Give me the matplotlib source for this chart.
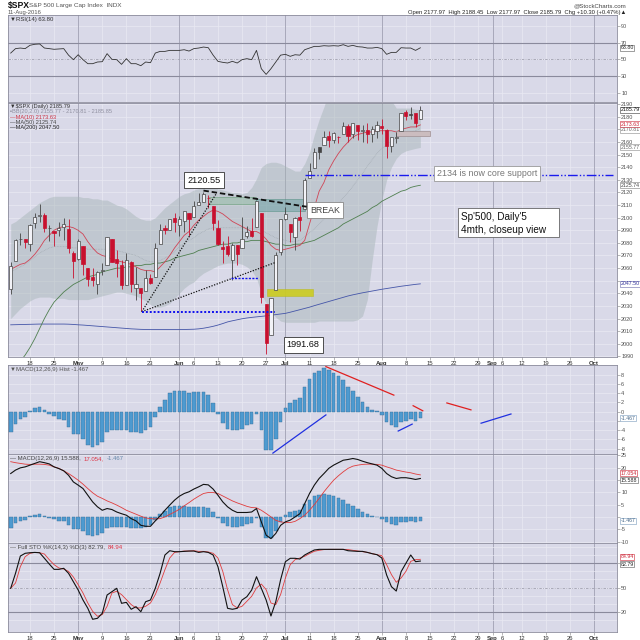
import numpy as np
import pandas as pd
import matplotlib
matplotlib.use("Agg")
import matplotlib.pyplot as plt
from matplotlib.patches import Rectangle
from matplotlib.text import Annotation

plt.rcParams['font.family'] = ['Liberation Sans', 'DejaVu Sans']
plt.rcParams['axes.unicode_minus'] = False

# trading calendar (x axis = trading days)
holidays = pd.to_datetime(['2016-05-30', '2016-07-04', '2016-09-05'])
days = pd.bdate_range('2016-04-12', '2016-10-14')
days = days[~days.isin(holidays)]

tick_dates = ['2016-04-18', '2016-04-25', '2016-05-02', '2016-05-09', '2016-05-16', '2016-05-23',
              '2016-06-01', '2016-06-06', '2016-06-13', '2016-06-20', '2016-06-27', '2016-07-01',
              '2016-07-11', '2016-07-18', '2016-07-25', '2016-08-01', '2016-08-08', '2016-08-15',
              '2016-08-22', '2016-08-29', '2016-09-01', '2016-09-06', '2016-09-12', '2016-09-19',
              '2016-09-26', '2016-10-03']
tick_labels = ['18', '25', 'May', '9', '16', '23', 'Jun', '6', '13', '20', '27', 'Jul', '11', '18',
               '25', 'Aug', '8', '15', '22', '29', 'Sep', '6', '12', '19', '26', 'Oct']
months = {'May', 'Jun', 'Jul', 'Aug', 'Sep', 'Oct'}

# daily candles, 12 Apr - 11 Aug 2016
opens = [2043.72, 2065.92, 2082.89, 2083.10, 2078.83, 2096.05, 2101.52, 2102.09, 2091.49, 2089.37,
         2089.84, 2092.57, 2090.93, 2071.82, 2067.17, 2077.18, 2060.30, 2052.95, 2047.77, 2057.55,
         2062.63, 2083.29, 2067.17, 2062.50, 2046.53, 2065.04, 2044.38, 2044.21, 2041.88, 2052.23,
         2052.65, 2078.93, 2091.44, 2090.06, 2100.13, 2093.94, 2097.71, 2104.07, 2100.83, 2110.18,
         2112.71, 2115.65, 2109.57, 2091.75, 2076.65, 2077.60, 2066.36, 2078.20, 2075.58, 2085.19,
         2089.75, 2092.80, 2103.81, 2031.45, 2006.67, 2042.69, 2073.17, 2099.34, 2095.05, 2084.43,
         2100.42, 2106.97, 2131.72, 2139.50, 2155.81, 2157.88, 2165.13, 2162.04, 2163.79, 2166.10,
         2172.91, 2166.47, 2173.71, 2168.97, 2169.81, 2166.05, 2168.83, 2173.15, 2169.94, 2156.81,
         2163.51, 2168.79, 2183.76, 2182.24, 2182.81, 2177.97]
highs = [2065.05, 2083.18, 2087.84, 2083.22, 2094.66, 2104.05, 2111.05, 2103.78, 2094.32, 2089.37,
         2096.87, 2099.89, 2099.30, 2073.85, 2083.42, 2077.18, 2060.30, 2060.23, 2057.72, 2064.15,
         2084.87, 2083.29, 2073.99, 2066.79, 2071.88, 2065.69, 2060.61, 2044.21, 2058.35, 2055.58,
         2079.67, 2094.73, 2094.30, 2099.06, 2103.48, 2100.97, 2105.26, 2104.07, 2113.36, 2119.22,
         2120.55, 2117.64, 2109.57, 2098.12, 2081.30, 2085.65, 2079.62, 2078.20, 2100.66, 2093.66,
         2099.71, 2113.32, 2103.81, 2031.45, 2036.09, 2073.13, 2098.94, 2108.71, 2095.05, 2100.72,
         2109.08, 2131.71, 2143.16, 2155.40, 2156.45, 2168.99, 2169.05, 2168.35, 2164.63, 2175.63,
         2174.56, 2175.11, 2173.71, 2173.54, 2174.98, 2172.85, 2177.09, 2178.29, 2170.20, 2163.79,
         2168.19, 2182.87, 2185.44, 2187.66, 2183.41, 2188.45]
lows = [2039.74, 2065.92, 2078.13, 2076.31, 2073.65, 2091.68, 2096.32, 2088.52, 2081.20, 2077.52,
        2085.80, 2082.31, 2071.62, 2052.28, 2066.11, 2054.89, 2045.55, 2045.77, 2039.45, 2054.31,
        2062.63, 2064.46, 2053.13, 2043.13, 2046.53, 2040.82, 2034.49, 2025.91, 2041.88, 2047.26,
        2052.65, 2078.93, 2087.08, 2090.06, 2088.66, 2085.10, 2088.59, 2085.36, 2100.83, 2110.18,
        2112.71, 2107.73, 2089.96, 2078.46, 2064.10, 2069.80, 2050.37, 2062.84, 2075.58, 2084.12,
        2084.36, 2092.80, 2032.57, 1991.68, 2006.67, 2042.69, 2070.00, 2097.90, 2080.86, 2074.02,
        2089.39, 2106.97, 2131.72, 2139.50, 2146.21, 2157.88, 2155.79, 2159.07, 2159.40, 2166.10,
        2159.75, 2163.24, 2161.95, 2160.18, 2159.07, 2159.74, 2163.49, 2166.21, 2147.58, 2152.02,
        2159.07, 2168.79, 2177.85, 2178.61, 2172.00, 2177.97]
closes = [2061.72, 2082.42, 2082.78, 2080.73, 2094.34, 2100.80, 2102.40, 2091.48, 2091.58, 2087.79,
          2091.70, 2095.15, 2075.81, 2065.30, 2081.43, 2063.37, 2051.12, 2050.63, 2057.14, 2058.69,
          2084.39, 2064.46, 2064.11, 2046.61, 2066.66, 2047.21, 2047.63, 2040.04, 2052.32, 2048.04,
          2076.06, 2090.54, 2090.10, 2099.06, 2096.95, 2099.33, 2105.26, 2099.13, 2109.41, 2112.13,
          2119.12, 2115.48, 2096.07, 2079.06, 2075.32, 2071.50, 2077.99, 2071.22, 2083.25, 2088.90,
          2085.45, 2113.32, 2037.41, 2000.54, 2036.09, 2070.77, 2098.86, 2102.95, 2088.55, 2099.73,
          2097.90, 2129.90, 2137.16, 2152.14, 2152.43, 2163.75, 2161.74, 2166.89, 2163.78, 2173.02,
          2165.17, 2175.03, 2168.48, 2169.18, 2166.58, 2170.06, 2173.60, 2170.84, 2157.03, 2163.79,
          2164.25, 2182.87, 2180.89, 2181.74, 2175.49, 2185.79]

# overlays
bb_up = [2095, 2097, 2100, 2103, 2106, 2109, 2112, 2114, 2116, 2117,
         2117, 2117, 2117, 2117, 2117, 2116, 2116, 2115, 2115, 2114,
         2114, 2112, 2110, 2109, 2107, 2104, 2101, 2099, 2098, 2098,
         2100, 2104, 2108, 2111, 2114, 2117, 2119, 2120, 2122, 2123,
         2124, 2124, 2124, 2123, 2122, 2121, 2120, 2120, 2119, 2120,
         2124, 2131, 2140, 2143, 2144, 2144, 2143, 2141, 2139, 2137,
         2137, 2143, 2152, 2166, 2178, 2188, 2200, 2210, 2215, 2220,
         2222, 2222, 2220, 2218, 2215, 2212, 2208, 2203, 2198, 2193,
         2187, 2187, 2187, 2187, 2186, 2185.85]
bb_mid = [2057, 2059, 2061, 2063, 2066, 2069, 2072, 2074, 2076, 2077,
          2077, 2077, 2077, 2076, 2076, 2076, 2075, 2075, 2075, 2075,
          2075, 2075, 2074, 2073, 2072, 2071, 2070, 2068, 2066, 2065,
          2065, 2066, 2068, 2070, 2073, 2077, 2080, 2082, 2084, 2087,
          2089, 2091, 2092, 2092, 2092, 2092, 2092, 2092, 2092, 2092,
          2091, 2091, 2090, 2088, 2086, 2084, 2083, 2082, 2081, 2081,
          2082, 2085, 2088, 2091, 2095, 2099, 2103, 2107, 2111, 2116,
          2120, 2125, 2130, 2135, 2141, 2146, 2151, 2155, 2158, 2161,
          2163, 2165, 2166, 2168, 2169, 2170.81]
bb_low = [2020, 2024, 2028, 2031, 2034, 2036, 2037, 2037, 2037, 2036,
          2036, 2036, 2035, 2035, 2035, 2035, 2035, 2036, 2037, 2038,
          2039, 2040, 2041, 2041, 2040, 2039, 2038, 2036, 2034, 2031,
          2029, 2029, 2030, 2032, 2036, 2040, 2044, 2047, 2049, 2053,
          2056, 2058, 2060, 2062, 2063, 2064, 2064, 2064, 2063, 2061,
          2058, 2052, 2040, 2032, 2026, 2021, 2018, 2017, 2017, 2017,
          2017, 2017, 2017, 2017, 2018, 2018, 2018, 2018, 2018, 2018,
          2018, 2018, 2019, 2022, 2035, 2066, 2093, 2114, 2130, 2140,
          2147, 2151, 2153, 2154, 2155, 2155.77]
ma10 = [2059, 2061, 2063, 2064, 2067, 2071, 2076, 2082, 2086, 2090,
        2092, 2093, 2093, 2092, 2090, 2087, 2081, 2076, 2072, 2070,
        2069, 2067, 2066, 2065, 2064, 2063, 2061, 2059, 2058, 2058,
        2057, 2061, 2065, 2070, 2076, 2081, 2086, 2089, 2094, 2098,
        2101, 2104, 2106, 2105, 2103, 2100, 2097, 2095, 2093, 2091,
        2089, 2089, 2087, 2083, 2078, 2075, 2074, 2075, 2076, 2077,
        2078, 2082, 2095, 2108, 2121, 2128, 2138, 2145, 2151, 2156,
        2160, 2164, 2166, 2167, 2168, 2168, 2169, 2169, 2169, 2169,
        2168, 2170, 2171, 2172, 2172, 2173.63]
ma50 = [1975, 1981, 1986, 1991, 1997, 2004, 2012, 2020, 2027, 2033,
        2037, 2041, 2044, 2047, 2049, 2051, 2053, 2054, 2055, 2057,
        2058, 2059, 2060, 2060, 2061, 2061, 2062, 2062, 2063, 2063,
        2064, 2064, 2065, 2066, 2068, 2069, 2070, 2071, 2072, 2074,
        2075, 2076, 2077, 2078, 2079, 2079, 2080, 2080, 2081, 2081,
        2082, 2082, 2082, 2081, 2080, 2079, 2079, 2078, 2078, 2079,
        2079, 2080, 2081, 2082, 2084, 2086, 2088, 2090, 2092, 2095,
        2097, 2099, 2101, 2103, 2105, 2108, 2110, 2113, 2115, 2117,
        2119, 2121, 2122, 2124, 2125, 2125.74]
ma200 = [2015.0, 2015.1, 2015.2, 2015.3, 2015.4, 2015.5, 2015.6, 2015.6, 2015.6, 2015.6,
         2015.6, 2015.6, 2015.5, 2015.3, 2015.0, 2014.8, 2014.5, 2014.2, 2013.9, 2013.6,
         2013.3, 2013.0, 2012.7, 2012.4, 2012.1, 2011.8, 2011.6, 2011.4, 2011.3, 2011.2,
         2011.2, 2011.2, 2011.2, 2011.2, 2011.2, 2011.2, 2011.3, 2011.4, 2011.5, 2011.8,
         2012.3, 2013.0, 2013.8, 2014.8, 2016.0, 2017.3, 2018.2, 2019.0, 2019.8, 2020.4,
         2020.9, 2021.3, 2021.7, 2022.1, 2022.6, 2023.1, 2023.6, 2024.1, 2025.0, 2026.0,
         2027.0, 2028.0, 2029.0, 2030.2, 2031.3, 2032.4, 2033.5, 2034.6, 2035.7, 2036.8,
         2037.9, 2038.8, 2039.6, 2040.4, 2041.1, 2041.8, 2042.5, 2043.2, 2043.8, 2044.4,
         2045.0, 2045.6, 2046.1, 2046.6, 2047.1, 2047.5]

# indicators
rsi = [57.5, 62.8, 63.5, 62.8, 66.8, 68.0, 68.4, 63.5, 62.8, 62.0,
       62.4, 62.8, 55.0, 49.6, 55.5, 49.6, 44.8, 44.8, 46.8, 47.2,
       56.8, 50.0, 49.6, 44.0, 50.8, 44.8, 44.8, 42.4, 46.8, 46.0,
       57.5, 59.5, 59.5, 60.7, 60.7, 60.7, 61.5, 59.9, 62.8, 63.5,
       64.7, 63.9, 55.0, 47.6, 46.4, 45.6, 47.6, 45.6, 49.6, 50.8,
       49.6, 60.7, 38.8, 32.0, 38.8, 46.8, 55.0, 56.0, 53.6, 55.5,
       55.0, 61.5, 63.5, 65.5, 65.5, 66.3, 65.9, 66.3, 65.9, 67.5,
       65.5, 66.7, 65.1, 64.7, 63.5, 63.5, 64.3, 62.8, 56.0, 58.3,
       58.3, 63.9, 63.5, 63.5, 60.7, 63.8]
macd_hist = [-4.4, -2.6, -1.5, -1.2, 0.2, 0.7, 1.1, 0.4, -0.4, -1.0,
             -1.5, -1.8, -3.3, -4.8, -4.8, -5.9, -7.3, -7.7, -7.3, -6.6,
             -4.4, -4.0, -3.9, -4.0, -3.9, -4.4, -4.4, -4.6, -4.0, -3.4,
             -1.1, 1.1, 2.6, 4.0, 4.4, 4.6, 4.4, 4.0, 4.2, 4.2,
             4.2, 3.6, 1.9, -0.4, -2.4, -3.7, -4.0, -4.0, -3.7, -2.9,
             -2.6, -0.4, -4.0, -8.4, -8.4, -5.9, -2.2, 0.7, 1.8, 2.6,
             2.9, 5.3, 7.0, 8.4, 8.8, 9.4, 9.0, 8.4, 7.7, 6.8,
             5.3, 4.6, 3.3, 2.0, 1.0, 0.4, 0.15, -0.7, -2.2, -2.9,
             -3.3, -2.2, -2.0, -1.6, -2.0, -1.467]
macd_line = [17.6, 19.0, 19.9, 20.3, 21.0, 21.7, 22.4, 22.0, 21.5, 20.3,
             19.6, 18.7, 16.9, 14.2, 12.9, 11.5, 8.8, 6.1, 4.1, 2.7,
             3.4, 3.0, 2.0, 1.3, 0.7, -0.7, -1.6, -3.4, -3.8, -3.8,
             -1.6, 0.4, 2.7, 4.8, 6.8, 8.4, 9.5, 10.2, 11.3, 12.2,
             13.2, 13.0, 11.3, 8.8, 6.1, 4.1, 2.7, 1.8, 1.8, 1.8,
             2.0, 3.4, -2.0, -7.4, -8.8, -6.7, -3.4, -2.0, -1.3, 0.0,
             1.3, 5.4, 9.5, 12.9, 15.6, 17.6, 19.7, 21.0, 22.0, 23.0,
             23.3, 23.7, 23.3, 22.6, 22.0, 21.5, 21.0, 19.7, 17.6, 16.3,
             15.6, 15.9, 15.9, 15.6, 15.2, 15.588]
macd_signal = [22.4, 22.0, 21.7, 21.4, 21.3, 21.4, 21.4, 21.3, 21.0, 20.3,
               19.7, 18.7, 17.6, 16.3, 14.9, 13.3, 11.5, 9.8, 8.4, 7.5,
               6.5, 5.7, 4.8, 3.8, 2.7, 1.9, 1.1, 0.3, -0.4, -0.7,
               -0.8, -0.7, 0.0, 1.0, 2.0, 3.1, 4.5, 5.8, 7.2, 8.4,
               9.5, 9.9, 9.9, 9.5, 8.5, 7.5, 6.5, 5.7, 5.0, 4.3,
               3.8, 3.7, 2.7, 1.4, 0.0, -1.4, -2.0, -2.3, -2.3, -1.8,
               -0.7, 0.7, 2.7, 5.0, 7.5, 10.2, 12.6, 14.9, 16.7, 18.3,
               19.7, 20.6, 21.0, 21.3, 21.4, 21.4, 21.3, 21.0, 20.3, 19.7,
               19.0, 18.6, 18.2, 17.9, 17.4, 17.054]
sto_k = [49.0, 67.6, 89.0, 92.4, 93.1, 93.5, 93.1, 86.2, 79.1, 72.5,
         72.5, 73.8, 67.6, 57.2, 46.9, 34.5, 24.2, 10.6, 11.8, 18.0,
         40.7, 44.8, 49.0, 30.4, 31.6, 23.0, 26.2, 20.0, 32.4, 34.5,
         49.0, 67.6, 90.3, 95.6, 94.4, 94.4, 94.8, 95.2, 95.2, 93.5,
         94.4, 93.5, 90.3, 75.8, 51.0, 24.2, 23.0, 24.2, 34.5, 38.6,
         46.9, 63.4, 49.0, 34.5, 14.7, 32.4, 59.6, 82.0, 86.2, 86.2,
         85.3, 90.3, 93.5, 96.5, 97.3, 97.3, 97.3, 97.3, 97.3, 97.3,
         95.6, 95.2, 94.8, 94.8, 93.5, 91.9, 90.7, 86.6, 65.5, 51.0,
         45.6, 69.6, 80.0, 90.3, 82.0, 82.79]
sto_d = [49.0, 55.6, 75.8, 88.2, 92.4, 93.5, 93.1, 91.5, 84.5, 78.3,
         74.2, 72.9, 70.0, 63.0, 53.5, 43.2, 30.8, 20.5, 14.3, 16.4,
         26.7, 43.2, 45.3, 41.2, 35.0, 28.8, 24.7, 24.7, 26.7, 30.8,
         41.2, 55.6, 72.1, 86.6, 93.5, 94.4, 95.2, 95.2, 95.6, 94.8,
         94.8, 94.0, 92.4, 86.6, 70.0, 47.3, 28.8, 24.7, 26.7, 32.9,
         39.1, 49.4, 54.3, 47.3, 30.8, 28.8, 41.2, 61.8, 78.3, 84.5,
         86.6, 88.7, 92.0, 94.9, 96.1, 97.0, 97.3, 97.3, 97.3, 97.3,
         97.0, 96.1, 95.3, 94.4, 93.6, 92.0, 90.7, 89.5, 78.3, 66.0,
         56.5, 61.8, 70.0, 82.4, 84.5, 84.94]

n = len(closes)
x = np.arange(n)
tick_idx = [days.get_loc(pd.Timestamp(d)) for d in tick_dates]
month_idx = [t for t, l in zip(tick_idx, tick_labels) if l in months]
week_idx = [t for t, l in zip(tick_idx, tick_labels) if l not in months]

BG = '#d9d9e8'
GRID = '#e9e9f3'
XL = (-0.56, 125.8)

fig = plt.figure(figsize=(6.4, 6.4), dpi=100)
fig.patch.set_facecolor('white')


def fx(px):
    return px / 640.0


def fy(py):
    return 1 - py / 640.0


def panel(top, bottom, ylim, yticks, hide=()):
    ax = fig.add_axes([fx(8), fy(bottom), 609 / 640.0, (bottom - top) / 640.0])
    ax.set_facecolor(BG)
    ax.set_xlim(*XL)
    ax.set_ylim(*ylim)
    ax.yaxis.tick_right()
    ax.set_yticks(yticks)
    ax.set_yticklabels(['' if v in hide else str(v) for v in yticks])
    ax.tick_params(axis='y', length=2, width=0.4, pad=1, labelsize=4, labelcolor='#505050', color='#808080')
    ax.set_xticks([])
    for s in ax.spines.values():
        s.set_color('#8c8c9c')
        s.set_linewidth(0.6)
    for v in yticks:
        ax.axhline(v, color=GRID, lw=0.5, zorder=0)
    for t in week_idx:
        ax.axvline(t, color=GRID, lw=0.5, zorder=0)
    for t in month_idx:
        ax.axvline(t, color='#a8a8ba', lw=0.7, zorder=0)
    return ax


def date_ticks(ax):
    ax.set_xticks(tick_idx)
    ax.set_xticklabels(tick_labels)
    ax.tick_params(axis='x', length=2, width=0.4, pad=1, labelsize=4.2, labelcolor='#303030', color='#808080')
    for lab in ax.get_xticklabels():
        if lab.get_text() in months:
            lab.set_fontweight('bold')


def tag(ax, y, text, color='#222222', edge='#555555'):
    ax.annotate(text, xy=(1, y), xycoords=('axes fraction', 'data'), xytext=(2.5, 0),
                textcoords='offset points', fontsize=3.8, va='center', ha='left', color=color,
                bbox=dict(boxstyle='square,pad=0.1', fc='white', ec=edge, lw=0.4),
                annotation_clip=False, zorder=10)


def chained_text(ypx, parts, size=4.3):
    # one legend line in several colours, each piece placed right after the previous one
    prev = fig.text(fx(10), fy(ypx), parts[0][0], fontsize=size, va='center', color=parts[0][1])
    for txt, col in parts[1:]:
        prev = fig.add_artist(Annotation(
            txt, xy=(1, 0.5), xycoords=prev, xytext=(2, 0), textcoords='offset points',
            fontsize=size, va='center', ha='left', color=col, annotation_clip=False))
    return prev


# ---------------- header ----------------
fig.text(fx(8), fy(5.5), '$SPX', fontsize=6.2, fontweight='bold', va='center', color='#111111')
fig.text(fx(29), fy(5.5), 'S&P 500 Large Cap Index  INDX', fontsize=4.6, va='center', color='#555555')
fig.text(fx(8), fy(12.5), '11-Aug-2016', fontsize=4.2, va='center', color='#555555')
fig.text(fx(626), fy(5.5), '@StockCharts.com', fontsize=4.4, va='center', ha='right', color='#444444')
fig.text(fx(626), fy(12.5), 'Open 2177.97  High 2188.45  Low 2177.97  Close 2185.79  Chg +10.30 (+0.47%)▲',
         fontsize=4.2, va='center', ha='right', color='#222222')

# ---------------- RSI ----------------
ax_rsi = panel(15, 102, (-1, 103), [10, 30, 50, 70, 90])
ax_rsi.axhline(70, color='#8a8a9c', lw=0.8, zorder=1)
ax_rsi.axhline(30, color='#8a8a9c', lw=0.8, zorder=1)
ax_rsi.axhline(50, color='#a0a0b0', lw=0.6, dashes=(3, 1.5, 1, 1.5), zorder=1)
ax_rsi.plot(x, rsi, color='#333333', lw=0.6, zorder=3)
tag(ax_rsi, rsi[-1], '63.80')
fig.text(fx(10), fy(20), '▼RSI(14) 63.80', fontsize=4.3, va='center', color='#333333')

# ---------------- price ----------------
ax_p = panel(102.5, 356.7, (1989.7, 2191.4), list(range(1990, 2191, 10)), hide=(2170, 2050))
date_ticks(ax_p)
ax_p.fill_between(x, bb_low, bb_up, color='#a3b3b3', alpha=0.45, lw=0, zorder=1)
ax_p.plot(x, bb_mid, color='#a0a8b0', lw=0.5, dashes=(1, 1.2), zorder=2)
ax_p.plot(x, ma200, color='#4455a8', lw=0.6, zorder=2)
ax_p.plot(x, ma50, color='#4f7f4f', lw=0.6, zorder=2)
ax_p.plot(x, ma10, color='#d04455', lw=0.6, zorder=2)

# annotation rectangles
ax_p.add_patch(Rectangle((41, 2111.2), 9.9, 5.5, fc='#9cc0ac', ec='#5f9a6f', lw=0.6, alpha=0.6, zorder=3))
ax_p.add_patch(Rectangle((51, 2105.3), 10, 9.5, fc='#6fa2a6', ec='#4a8a7a', lw=0.6, alpha=0.55, zorder=3))
ax_p.add_patch(Rectangle((53.1, 2038.0), 9.7, 5.4, fc='#cccc1e', ec='#b8b820', lw=0.4, alpha=0.9, zorder=3))
ax_p.add_patch(Rectangle((80, 2165.1), 7, 3.7, fc='#cbbcbf', ec='#9f8f92', lw=0.5, zorder=3))

# candles
for i in range(n):
    o, h, l, c = opens[i], highs[i], lows[i], closes[i]
    red = i > 0 and c < closes[i - 1]
    edge = '#c8102e' if red else '#444444'
    filled = c < o
    face = edge if filled else '#f2f2f7'
    ax_p.vlines(i, l, h, color=edge, lw=0.6, zorder=4)
    ax_p.add_patch(Rectangle((i - 0.33, min(o, c)), 0.66, max(abs(c - o), 0.5),
                             fc=face, ec=edge, lw=0.5, zorder=5))

# hand drawn lines
ax_p.plot([40, 61.4], [2121.5, 2108.7], color='#111111', lw=1.3, dashes=(3, 1.6), zorder=6)
ax_p.plot([27.2, 42.7], [2025.4, 2119.4], color='#111111', lw=0.9, dashes=(1, 1.2), zorder=6)
ax_p.plot([27.2, 54.8], [2025.4, 2064.3], color='#111111', lw=0.9, dashes=(1, 1.2), zorder=6)
ax_p.plot([27.2, 54.8], [2025.4, 2025.4], color='#1010ee', lw=1.4, dashes=(1, 1), zorder=6)
ax_p.plot([45.8, 51.4], [2051.9, 2051.9], color='#1010ee', lw=1.0, dashes=(1.5, 1), zorder=6)
ax_p.plot([61, 125], [2134, 2134], color='#1a1aee', lw=1.0, dashes=(7, 1.5, 1, 1.5, 1, 1.5), zorder=6)

box = dict(boxstyle='square,pad=0.35', fc='white', ec='#333333', lw=0.6)
ax_p.text(40.1, 2129.8, '2120.55', fontsize=6.6, ha='center', va='center', color='#111111', bbox=box, zorder=8)
ax_p.text(60.7, 1999.0, '1991.68', fontsize=6.6, ha='center', va='center', color='#111111', bbox=box, zorder=8)
ax_p.text(65.2, 2106.1, 'BREAK', fontsize=6.4, ha='center', va='center', color='#444444',
          bbox=dict(boxstyle='square,pad=0.35', fc='white', ec='#888888', lw=0.6), zorder=8)
ax_p.text(98.8, 2135.0, '2134 is now core support', fontsize=6.4, ha='center', va='center', color='#777777',
          bbox=dict(boxstyle='square,pad=0.3', fc='white', ec='#999999', lw=0.6), zorder=8)
ax_p.add_patch(Rectangle((92.9, 2084.8), 20.9, 23.0, fc='white', ec='#666666', lw=0.6, zorder=7))
ax_p.text(93.5, 2100.3, "Sp'500, Daily'5", fontsize=7.2, ha='left', va='center', color='#111111', zorder=8)
ax_p.text(93.5, 2090.2, '4mth, closeup view', fontsize=7.2, ha='left', va='center', color='#111111', zorder=8)

tag(ax_p, 2047.50, '2047.50', '#333399', '#6666aa')
tag(ax_p, 2125.74, '2125.74', '#444444', '#777777')
tag(ax_p, 2155.77, '2155.77', '#666666', '#888888')
tag(ax_p, 2169.9, '2170.81', '#666666', '#888888')
tag(ax_p, 2174.2, '2173.63', '#cc2233', '#cc2233')
tag(ax_p, 2185.79, '2185.79', '#111111', '#333333')

leg_y = [106.8, 112.0, 117.2, 122.3, 127.4]
fig.text(fx(10), fy(leg_y[0]), '▼$SPX (Daily) 2185.79', fontsize=4.1, va='center', color='#333333')
fig.text(fx(10), fy(leg_y[1]), '▪BB(20,2.0) 2155.77 - 2170.81 - 2185.85', fontsize=4.1, va='center', color='#9090a0')
fig.text(fx(10), fy(leg_y[2]), '—MA(10) 2173.63', fontsize=4.1, va='center', color='#cc3344')
fig.text(fx(10), fy(leg_y[3]), '—MA(50) 2125.74', fontsize=4.1, va='center', color='#444444')
fig.text(fx(10), fy(leg_y[4]), '—MA(200) 2047.50', fontsize=4.1, va='center', color='#222222')

# ---------------- MACD histogram ----------------
ax_h = panel(365, 454.3, (-9.26, 10.15), [-8, -6, -4, -2, 0, 2, 4, 6, 8], hide=(-2,))
ax_h.bar(x, macd_hist, width=0.75, color='#4d9ad0', edgecolor='#3a6f98', lw=0.3, zorder=3)
hist_red = [([65.4, 79.5], [9.8, 3.6]), ([83.5, 85.5], [1.3, 0.2]), ([90.5, 95.5], [1.9, 0.4])]
hist_blue = [([54.4, 65.4], [-9.0, -0.7]), ([80.4, 83.3], [-4.2, -2.7]), ([97.6, 103.8], [-2.5, -0.5])]
for xs, ys in hist_red:
    ax_h.plot(xs, ys, color='#e02020', lw=0.9, zorder=5)
for xs, ys in hist_blue:
    ax_h.plot(xs, ys, color='#2030e0', lw=0.9, zorder=5)
tag(ax_h, macd_hist[-1], '-1.467', '#446688', '#7799bb')
fig.text(fx(10), fy(369.5), '▼MACD(12,26,9) Hist -1.467', fontsize=4.3, va='center', color='#555555')

# ---------------- MACD ----------------
ax_m = panel(454.3, 543.3, (-10.7, 25.4), [-10, -5, 0, 5, 10, 15, 20, 25], hide=(15, 0))
ax_m.bar(x, macd_hist, width=0.75, color='#4d9ad0', edgecolor='#3a6f98', lw=0.3, zorder=3)
ax_m.plot(x, macd_signal, color='#e03c3c', lw=0.6, zorder=4)
ax_m.plot(x, macd_line, color='#111111', lw=0.8, zorder=5)
tag(ax_m, macd_signal[-1] + 0.6, '17.054', '#cc2233', '#cc2233')
tag(ax_m, macd_line[-1] - 0.8, '15.588', '#222222', '#555555')
tag(ax_m, macd_hist[-1], '-1.467', '#446688', '#7799bb')
chained_text(458.5, [('— MACD(12,26,9) 15.588,', '#444444'), ('17.054,', '#dd3344'), ('-1.467', '#6688aa')])

# ---------------- Full stochastics ----------------
ax_s = panel(543.3, 631.7, (-4.8, 104.8), [20, 50, 80], hide=(80,))
date_ticks(ax_s)
ax_s.axhline(80, color='#8a8a9c', lw=0.8, zorder=1)
ax_s.axhline(20, color='#8a8a9c', lw=0.8, zorder=1)
ax_s.axhline(50, color='#a0a0b0', lw=0.6, dashes=(3, 1.5, 1, 1.5), zorder=1)
for v in [10, 30, 40, 60, 70, 90, 100]:
    ax_s.axhline(v, color=GRID, lw=0.5, zorder=0)
ax_s.plot(x, sto_d, color='#e03c3c', lw=0.6, zorder=4)
ax_s.plot(x, sto_k, color='#111111', lw=0.8, zorder=5)
tag(ax_s, sto_d[-1] + 3.0, '84.94', '#cc2233', '#cc2233')
tag(ax_s, sto_k[-1] - 4.0, '82.79', '#222222', '#555555')
chained_text(547.5, [('— Full STO %K(14,3) %D(3) 82.79,', '#444444'), ('84.94', '#dd3344')])

fig.savefig('out.png', dpi=100, facecolor='white')
